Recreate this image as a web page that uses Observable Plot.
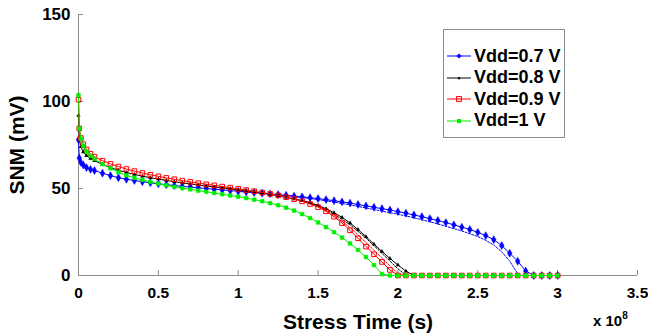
<!DOCTYPE html>
<html><head><meta charset="utf-8">
<script src="https://cdn.jsdelivr.net/npm/d3@7"></script>
<script src="https://cdn.jsdelivr.net/npm/@observablehq/plot@0.6"></script>
<style>
body{margin:0;background:#fff;}
#wrap{position:relative;width:648px;height:333px;font-family:"Liberation Sans",Arial,Helvetica,sans-serif;font-weight:bold;color:#000;overflow:hidden;}
#wrap svg.plot{position:absolute;left:0;top:0;}
.t{position:absolute;white-space:nowrap;line-height:1;}
#legend{position:absolute;left:443px;top:29px;width:122px;height:109px;border:1px solid #8c8c8c;background:#fff;box-sizing:border-box;}
.row{position:absolute;left:3px;height:20px;display:flex;align-items:center;font-size:18px;}
.row svg{margin-right:2px;}
</style></head><body><div id="wrap"></div>
<script>
// Stress time in units of 1e8 s
const times = [0, 0.005, 0.015, 0.03, 0.05, 0.075, 0.1, 0.15, 0.2, 0.25, 0.3, 0.35, 0.4, 0.45, 0.5, 0.55, 0.6, 0.65, 0.7, 0.75, 0.8, 0.85, 0.9, 0.95, 1.0, 1.05, 1.1, 1.15, 1.2, 1.25, 1.3, 1.35, 1.4, 1.45, 1.5, 1.55, 1.6, 1.65, 1.7, 1.75, 1.8, 1.85, 1.9, 1.95, 2.0, 2.05, 2.1, 2.15, 2.2, 2.25, 2.3, 2.35, 2.4, 2.45, 2.5, 2.55, 2.6, 2.65, 2.7, 2.75, 2.8, 2.85, 2.9, 2.95, 3.0];
const snm07 = [78, 67.5, 65, 63.5, 62, 61, 60.3, 58.8, 57.4, 56.2, 55.3, 54.6, 53.9, 53.3, 52.7, 52.2, 51.7, 51.2, 50.8, 50.4, 50.0, 49.6, 49.2, 48.8, 48.4, 48.0, 47.7, 47.3, 46.9, 46.5, 46.1, 45.6, 45.2, 44.7, 44.2, 43.6, 43.0, 42.3, 41.6, 40.8, 40.0, 39.2, 38.4, 37.6, 36.7, 35.8, 34.8, 33.8, 32.7, 31.6, 30.4, 29.1, 27.8, 26.4, 24.8, 22.9, 20.6, 17.2, 12.8, 8.2, 2.6, 0, 0, 0, 0];
const snm08 = [92, 78, 74, 71, 68.8, 67.3, 66.0, 63.8, 62.0, 60.5, 59.2, 58.1, 57.1, 56.2, 55.4, 54.6, 53.9, 53.2, 52.6, 52.0, 51.4, 50.9, 50.3, 49.8, 49.2, 48.6, 48.0, 47.3, 46.6, 45.8, 44.9, 44.0, 43.0, 41.8, 40.3, 38.4, 36.1, 33.4, 30.2, 26.4, 22.3, 18.0, 13.8, 9.8, 6.0, 2.5, 0, 0, 0, 0, 0, 0, 0, 0, 0, 0, 0, 0, 0, 0, 0, 0, 0, 0, 0];
const snm09 = [101, 84.5, 79, 75.5, 72.5, 70, 68.3, 66, 64.2, 62.6, 61.2, 60.0, 58.9, 57.9, 57.0, 56.1, 55.3, 54.5, 53.8, 53.1, 52.4, 51.8, 51.1, 50.5, 49.8, 49.1, 48.4, 47.7, 46.9, 46.0, 45.0, 43.9, 42.6, 41.1, 39.3, 36.9, 33.8, 30.1, 26.0, 21.4, 16.6, 12.2, 7.8, 3.2, 0, 0, 0, 0, 0, 0, 0, 0, 0, 0, 0, 0, 0, 0, 0, 0, 0, 0, 0, 0, 0];
const snm10 = [103.7, 84.5, 78.5, 74.5, 71.3, 68.8, 67.0, 64.0, 61.6, 59.4, 57.6, 56.1, 54.9, 53.8, 52.8, 51.8, 51.0, 50.2, 49.5, 48.8, 48.1, 47.4, 46.7, 46.0, 45.3, 44.5, 43.6, 42.7, 41.6, 40.4, 39.0, 37.3, 35.3, 33.0, 30.5, 27.8, 24.9, 21.8, 18.4, 14.7, 10.6, 6.0, 0.8, 0, 0, 0, 0, 0, 0, 0, 0, 0, 0, 0, 0, 0, 0, 0, 0, 0, 0, 0, 0, 0, 0];

// thin dashed companion curves
const dashTimes07 = [1.0, 1.1, 1.2, 1.3, 1.4, 1.5, 1.6, 1.7, 1.8, 1.9, 2.0, 2.1, 2.2, 2.3, 2.4, 2.5, 2.55, 2.6, 2.65, 2.7, 2.75];
const dash07 = [48.4, 47.6, 46.8, 45.8, 44.8, 43.6, 42.2, 40.6, 38.8, 37.0, 35.2, 33.2, 30.9, 28.3, 25.6, 22.4, 20.2, 17.5, 13.6, 8.2, 1.0];
const dashTimes08 = [1.4, 1.5, 1.6, 1.7, 1.8, 1.9, 1.95, 2.0, 2.05];
const dash08 = [42.8, 40.0, 35.3, 29.2, 21.5, 12.8, 8.3, 3.8, 0.3];
const dashTimes09 = [1.4, 1.5, 1.6, 1.7, 1.8, 1.9, 1.95, 2.0, 2.05];
const dash09 = [42.8, 39.8, 34.6, 27.6, 19.0, 10.0, 5.5, 1.2, 0];

const xTicks = [0, 0.5, 1, 1.5, 2, 2.5, 3, 3.5];
const yTicks = [0, 50, 100, 150];
const seriesNames = ["Vdd=0.7 V", "Vdd=0.8 V", "Vdd=0.9 V", "Vdd=1 V"];
const colors = ["#0000ff", "#000000", "#ff0000", "#00ee00"];

const rows = (ts, vs) => ts.map((t, i) => ({t, v: vs[i]}));
const s07 = rows(times, snm07), s08 = rows(times, snm08), s09 = rows(times, snm09), s10 = rows(times, snm10);
const d07 = rows(dashTimes07, dash07), d08 = rows(dashTimes08, dash08), d09 = rows(dashTimes09, dash09);

const axisColor = "#8c8c8c";
const plot = Plot.plot({
  width: 648, height: 333,
  marginLeft: 78, marginRight: 11, marginTop: 14, marginBottom: 58,
  style: {fontFamily: '"Liberation Sans", Arial, Helvetica, sans-serif', background: "transparent", overflow: "visible", color: "#000"},
  x: {domain: [0, 3.5]},
  y: {domain: [0, 150]},
  marks: [
    Plot.ruleX([0], {stroke: axisColor}),
    Plot.ruleY([0], {stroke: axisColor}),
    Plot.axisX({ticks: xTicks, tickSize: -5, tickPadding: 16, fontSize: 15.5, fontWeight: "bold", stroke: axisColor, label: null, tickFormat: d => String(d)}),
    Plot.axisY({ticks: yTicks, tickSize: -5, tickPadding: 13, fontSize: 17, fontWeight: "bold", stroke: axisColor, label: null, tickFormat: d => String(d)}),
    Plot.line(d07, {x: "t", y: "v", stroke: colors[0], strokeWidth: 1, strokeDasharray: "2,1.5"}),
    Plot.line(d08, {x: "t", y: "v", stroke: colors[1], strokeWidth: 1, strokeDasharray: "2,1.5"}),
    Plot.line(d09, {x: "t", y: "v", stroke: colors[2], strokeWidth: 1, strokeDasharray: "2,1.5"}),
    Plot.line(s07, {x: "t", y: "v", stroke: colors[0], strokeWidth: 1}),
    Plot.dot(s07, {x: "t", y: "v", symbol: "diamond", r: 2.4, fill: colors[0], stroke: colors[0], strokeWidth: 0.5}),
    Plot.line(s08, {x: "t", y: "v", stroke: colors[1], strokeWidth: 1}),
    Plot.dot(s08, {x: "t", y: "v", symbol: "triangle", r: 1.6, fill: colors[1]}),
    Plot.line(s09, {x: "t", y: "v", stroke: colors[2], strokeWidth: 1}),
    Plot.dot(s09, {x: "t", y: "v", symbol: "square", r: 2.6, fill: "none", stroke: colors[2], strokeWidth: 1}),
    Plot.line(s10, {x: "t", y: "v", stroke: colors[3], strokeWidth: 1}),
    Plot.dot(s10, {x: "t", y: "v", symbol: "square", r: 2.1, fill: colors[3], stroke: colors[3], strokeWidth: 0.5})
  ]
});
const wrap = document.getElementById("wrap");
wrap.appendChild(plot);

function addText(txt, css) {
  const d = document.createElement("div");
  d.className = "t";
  d.textContent = txt;
  Object.assign(d.style, css);
  wrap.appendChild(d);
  return d;
}
// axis titles
addText("Stress Time (s)", {left: "358px", top: "311px", fontSize: "21px", transform: "translateX(-50%)"});
addText("SNM (mV)", {left: "16px", top: "145px", fontSize: "21px", transform: "translate(-50%,-50%) rotate(-90deg)"});
// exponent
const ex = addText("x 10", {left: "593px", top: "311px", fontSize: "15px"});
const sup = document.createElement("span");
sup.textContent = "8";
sup.style.fontSize = "10px";
sup.style.verticalAlign = "7px";
ex.appendChild(sup);

// legend
const legend = document.createElement("div");
legend.id = "legend";
wrap.appendChild(legend);
const markerSvg = [
  c => `<path d="M12,2.5L14.5,5L12,7.5L9.5,5Z" fill="${c}"/>`,
  c => `<path d="M12,3.2L13.6,6.2L10.4,6.2Z" fill="${c}"/>`,
  c => `<rect x="9.6" y="2.6" width="4.8" height="4.8" fill="none" stroke="${c}"/>`,
  c => `<rect x="10" y="3" width="4" height="4" fill="${c}"/>`
];
const rowTops = [16, 37.5, 59, 80.5];
seriesNames.forEach((name, i) => {
  const r = document.createElement("div");
  r.className = "row";
  r.style.top = rowTops[i] + "px";
  r.innerHTML = `<svg width="25" height="10"><line x1="0" y1="5" x2="24" y2="5" stroke="${colors[i]}" stroke-width="1"/>${markerSvg[i](colors[i])}</svg><span>${name}</span>`;
  legend.appendChild(r);
});
</script>
</body></html>
